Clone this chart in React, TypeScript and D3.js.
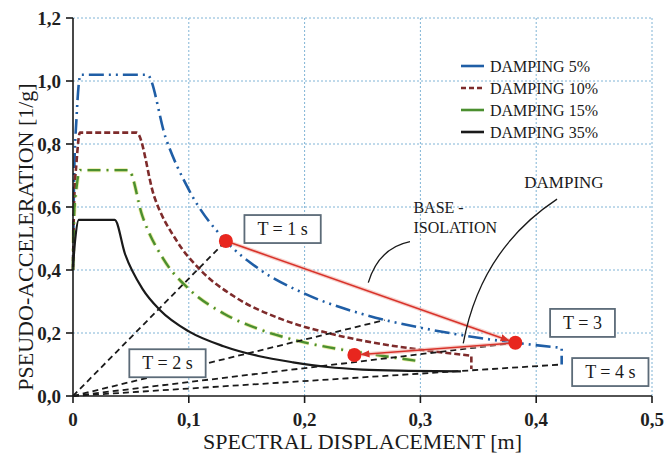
import React, { useEffect, useRef } from 'react';
import * as d3 from 'd3';

// axis ticks
const xTicks = [0, 0.1, 0.2, 0.3, 0.4, 0.5];
const xTickLabels = ['0', '0,1', '0,2', '0,3', '0,4', '0,5'];
const yTicks = [0, 0.2, 0.4, 0.6, 0.8, 1.0, 1.2];
const yTickLabels = ['0,0', '0,2', '0,4', '0,6', '0,8', '1,0', '1,2'];

// spectra, [spectral displacement (m), pseudo-acceleration (g)]
const damping5 = [
  [0, 0.4], [0.001, 0.7], [0.003, 0.88], [0.0065, 1.02], [0.064, 1.02], [0.08, 0.82],
  [0.1, 0.655], [0.132, 0.492], [0.16, 0.405], [0.2, 0.325], [0.25, 0.26], [0.3, 0.217],
  [0.35, 0.185], [0.382, 0.169], [0.422, 0.153],
];
const damping5Tail = [[0.422, 0.1]];
const damping10 = [
  [0, 0.4], [0.001, 0.62], [0.003, 0.74], [0.006, 0.836], [0.055, 0.836], [0.07, 0.635],
  [0.09, 0.49], [0.11, 0.4], [0.14, 0.314], [0.18, 0.244], [0.22, 0.2], [0.26, 0.169],
  [0.3, 0.147], [0.344, 0.128],
];
const damping10Tail = [[0.344, 0.086]];
const damping15 = [
  [0, 0.4], [0.001, 0.58], [0.003, 0.66], [0.006, 0.717], [0.048, 0.717], [0.06, 0.57],
  [0.078, 0.435], [0.1, 0.34], [0.13, 0.262], [0.16, 0.213], [0.19, 0.179], [0.22, 0.155],
  [0.25, 0.137], [0.3, 0.11],
];
const damping35 = [
  [0, 0.41], [0.002, 0.5], [0.005, 0.559], [0.036, 0.559], [0.045, 0.45], [0.06, 0.34],
  [0.075, 0.273], [0.1, 0.205], [0.13, 0.158], [0.16, 0.127], [0.19, 0.107], [0.22, 0.092],
  [0.25, 0.084], [0.29, 0.08], [0.335, 0.078],
];

const seriesNames = ['DAMPING 5%', 'DAMPING 10%', 'DAMPING 15%', 'DAMPING 35%'];

// constant-period lines from the origin and their labels
const periodEnds = [[0.132, 0.492], [0.269, 0.241], [0.382, 0.169], [0.422, 0.1]];
const periodLabels = ['T = 1 s', 'T = 2 s', 'T = 3', 'T = 4 s'];
const periodLabelPos = [[0.181, 0.53], [0.0816, 0.104], [0.44, 0.232], [0.464, 0.076]];

// red points and arrows (base isolation / damping)
const redPoints = [[0.132, 0.492], [0.382, 0.169], [0.243, 0.13]];
const redArrows = [[0, 1], [1, 2]];

const App = () => {
  const ref = useRef<SVGSVGElement>(null);

  useEffect(() => {
    const W = 664, H = 453;
    const serif = '"Liberation Serif", "Times New Roman", serif';
    const svg = d3.select(ref.current);
    svg.selectAll('*').remove();

    const x = d3.scaleLinear().domain([0, 0.5]).range([73, 652]);
    const y = d3.scaleLinear().domain([0, 1.2]).range([396, 18]);

    svg.append('rect').attr('width', W).attr('height', H).attr('fill', '#fff');

    const defs = svg.append('defs');
    defs.append('marker')
      .attr('id', 'redhead')
      .attr('viewBox', '0 0 10 10')
      .attr('refX', 9).attr('refY', 5)
      .attr('markerWidth', 9).attr('markerHeight', 9)
      .attr('markerUnits', 'userSpaceOnUse')
      .attr('orient', 'auto')
      .append('path')
      .attr('d', 'M0,1 L10,5 L0,9 z')
      .attr('fill', '#d8322a');

    // grid
    const grid = svg.append('g')
      .attr('stroke', '#80b4d6')
      .attr('stroke-width', 1)
      .attr('stroke-dasharray', '2,2');
    grid.selectAll('line.h').data(yTicks.slice(1)).join('line')
      .attr('class', 'h')
      .attr('x1', x(0)).attr('x2', x(0.5))
      .attr('y1', d => y(d)).attr('y2', d => y(d));
    grid.selectAll('line.v').data(xTicks.slice(1)).join('line')
      .attr('class', 'v')
      .attr('x1', d => x(d)).attr('x2', d => x(d))
      .attr('y1', y(0)).attr('y2', y(1.2));

    const lineGen = d3.line<number[]>()
      .x(d => x(d[0]))
      .y(d => y(d[1]))
      .curve(d3.curveMonotoneX);
    const pathFor = (pts: number[][], tail: number[][]) =>
      lineGen(pts) + tail.map(p => `L${x(p[0])},${y(p[1])}`).join('');

    const series = [
      { pts: damping5, tail: damping5Tail, color: '#1f5ea6', dash: '15,5,2,5,2,5', width: 2.6, legendDash: null },
      { pts: damping10, tail: damping10Tail, color: '#7e2b2b', dash: '6,3', width: 2.6, legendDash: '5,3' },
      { pts: damping15, tail: [], color: '#4b8f2f', dash: '13,6,2,6', width: 2.4, legendDash: null },
      { pts: damping35, tail: [], color: '#1a1a1a', dash: null, width: 2.2, legendDash: null },
    ];

    // yellow halo under the green curve
    svg.append('path')
      .attr('d', pathFor(damping15, []))
      .attr('fill', 'none')
      .attr('stroke', '#dfe27c')
      .attr('stroke-width', 4)
      .attr('stroke-dasharray', '13,6,2,6')
      .attr('opacity', 0.7);

    svg.append('g').selectAll('path').data(series).join('path')
      .attr('d', d => pathFor(d.pts, d.tail))
      .attr('fill', 'none')
      .attr('stroke', d => d.color)
      .attr('stroke-width', d => d.width)
      .attr('stroke-dasharray', d => d.dash)
      .attr('stroke-linejoin', 'round');

    // constant period lines
    svg.append('g').selectAll('line').data(periodEnds).join('line')
      .attr('x1', x(0)).attr('y1', y(0))
      .attr('x2', d => x(d[0])).attr('y2', d => y(d[1]))
      .attr('stroke', '#1a1a1a')
      .attr('stroke-width', 1.8)
      .attr('stroke-dasharray', '6,4');

    // red arrows, shortened so the heads touch the dots
    const r = 7;
    const arrowCoords = redArrows.map(([a, b]) => {
      const x1 = x(redPoints[a][0]), y1 = y(redPoints[a][1]);
      const x2 = x(redPoints[b][0]), y2 = y(redPoints[b][1]);
      const len = Math.hypot(x2 - x1, y2 - y1);
      const ux = (x2 - x1) / len, uy = (y2 - y1) / len;
      return { x1, y1, x2: x2 - ux * r, y2: y2 - uy * r };
    });
    const arrows = svg.append('g');
    arrows.selectAll('line.halo').data(arrowCoords).join('line')
      .attr('class', 'halo')
      .attr('x1', d => d.x1).attr('y1', d => d.y1)
      .attr('x2', d => d.x2).attr('y2', d => d.y2)
      .attr('stroke', '#f3b2aa').attr('stroke-width', 4).attr('opacity', 0.6);
    arrows.selectAll('line.main').data(arrowCoords).join('line')
      .attr('class', 'main')
      .attr('x1', d => d.x1).attr('y1', d => d.y1)
      .attr('x2', d => d.x2).attr('y2', d => d.y2)
      .attr('stroke', '#d8322a').attr('stroke-width', 1.5)
      .attr('marker-end', 'url(#redhead)');

    svg.append('g').selectAll('circle').data(redPoints).join('circle')
      .attr('cx', d => x(d[0])).attr('cy', d => y(d[1]))
      .attr('r', r)
      .attr('fill', '#e8261e');

    // period label boxes
    const boxes = svg.append('g');
    periodLabels.forEach((label, i) => {
      const cx = x(periodLabelPos[i][0]), cy = y(periodLabelPos[i][1]);
      const g = boxes.append('g');
      const rect = g.append('rect');
      const t = g.append('text')
        .attr('x', cx).attr('y', cy)
        .attr('dy', '0.34em')
        .attr('text-anchor', 'middle')
        .attr('font-family', serif)
        .attr('font-size', 18)
        .attr('fill', '#1a1a1a')
        .text(label);
      const w = (t.node() as SVGTextElement).getComputedTextLength() + 26;
      rect.attr('x', cx - w / 2).attr('y', cy - 14)
        .attr('width', w).attr('height', 28)
        .attr('fill', '#fff')
        .attr('stroke', '#5c6b78')
        .attr('stroke-width', 1.8);
    });

    // annotations
    const note = svg.append('g')
      .attr('font-family', serif)
      .attr('font-size', 16)
      .attr('fill', '#1a1a1a');
    note.append('text').attr('x', x(0.294)).attr('y', y(0.582)).text('BASE -');
    note.append('text').attr('x', x(0.294)).attr('y', y(0.518)).text('ISOLATION');
    note.append('text').attr('x', x(0.424)).attr('y', y(0.66))
      .attr('text-anchor', 'middle').attr('font-size', 17).text('DAMPING');

    svg.append('path')
      .attr('d', `M${x(0.291)},${y(0.49)} Q${x(0.264)},${y(0.47)} ${x(0.255)},${y(0.36)}`)
      .attr('fill', 'none').attr('stroke', '#1a1a1a').attr('stroke-width', 1.3);
    svg.append('path')
      .attr('d', `M${x(0.418)},${y(0.625)} Q${x(0.352)},${y(0.465)} ${x(0.337)},${y(0.167)}`)
      .attr('fill', 'none').attr('stroke', '#1a1a1a').attr('stroke-width', 1.3);

    // legend
    const legend = svg.append('g').attr('transform', 'translate(461,66)');
    const items = legend.selectAll('g').data(series).join('g')
      .attr('transform', (d, i) => `translate(0,${i * 22})`);
    items.append('line')
      .attr('x1', 0).attr('x2', 23)
      .attr('stroke', d => d.color)
      .attr('stroke-width', 2.6)
      .attr('stroke-dasharray', d => d.legendDash);
    items.append('text')
      .attr('x', 29).attr('dy', '0.35em')
      .attr('font-family', serif)
      .attr('font-size', 16)
      .attr('fill', '#1a1a1a')
      .text((d, i) => seriesNames[i]);

    // axes
    const axes = svg.append('g').attr('stroke', '#1a1a1a').attr('stroke-width', 1.6);
    axes.append('line').attr('x1', x(0)).attr('x2', x(0)).attr('y1', y(0)).attr('y2', y(1.2));
    axes.append('line').attr('x1', x(0)).attr('x2', x(0.5)).attr('y1', y(0)).attr('y2', y(0));
    axes.selectAll('line.yt').data(yTicks).join('line')
      .attr('class', 'yt')
      .attr('x1', x(0) - 7).attr('x2', x(0))
      .attr('y1', d => y(d)).attr('y2', d => y(d));
    axes.selectAll('line.xt').data(xTicks).join('line')
      .attr('class', 'xt')
      .attr('x1', d => x(d)).attr('x2', d => x(d))
      .attr('y1', y(0)).attr('y2', y(0) + 7);

    const labels = svg.append('g')
      .attr('font-family', serif)
      .attr('font-size', 19)
      .attr('font-weight', 'bold')
      .attr('fill', '#1f1f1f');
    labels.selectAll('text.y').data(yTicks).join('text')
      .attr('class', 'y')
      .attr('x', x(0) - 12)
      .attr('y', d => y(d))
      .attr('dy', '0.36em')
      .attr('text-anchor', 'end')
      .text((d, i) => yTickLabels[i]);
    labels.selectAll('text.x').data(xTicks).join('text')
      .attr('class', 'x')
      .attr('x', d => x(d))
      .attr('y', 426)
      .attr('text-anchor', 'middle')
      .text((d, i) => xTickLabels[i]);

    svg.append('text')
      .attr('x', (x(0) + x(0.5)) / 2)
      .attr('y', 449)
      .attr('text-anchor', 'middle')
      .attr('font-family', serif)
      .attr('font-size', 22)
      .attr('fill', '#1a1a1a')
      .text('SPECTRAL DISPLACEMENT [m]');
    svg.append('text')
      .attr('transform', `translate(33,237) rotate(-90)`)
      .attr('text-anchor', 'middle')
      .attr('font-family', serif)
      .attr('font-size', 22)
      .attr('fill', '#1a1a1a')
      .text('PSEUDO-ACCELERATION [1/g]');
  }, []);

  return (
    <svg
      ref={ref}
      width={664}
      height={453}
      style={{ position: 'absolute', left: 0, top: 0 }}
    />
  );
};

export default App;
